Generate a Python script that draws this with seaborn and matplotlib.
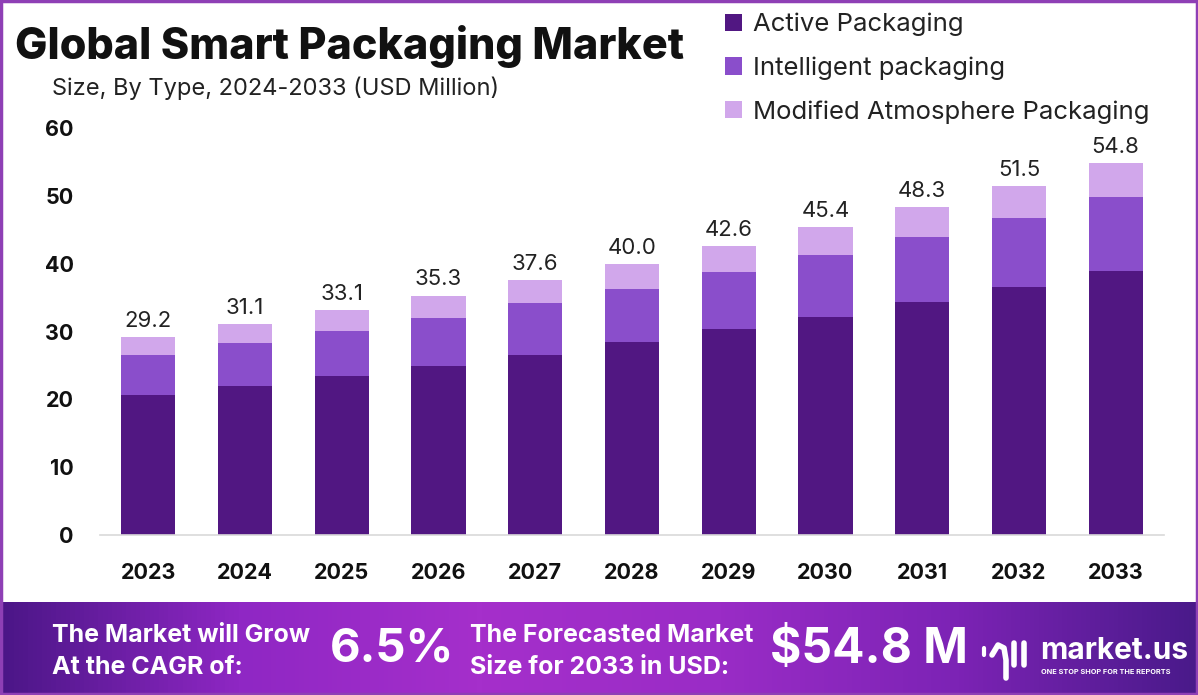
import numpy as np
import pandas as pd
import seaborn as sns
import matplotlib.pyplot as plt
from matplotlib.colors import LinearSegmentedColormap
from matplotlib.patches import Rectangle, Patch

years = ['2023', '2024', '2025', '2026', '2027', '2028', '2029', '2030', '2031', '2032', '2033']
active = [20.6, 21.9, 23.4, 24.9, 26.6, 28.4, 30.3, 32.2, 34.4, 36.6, 38.9]
intelligent = [5.9, 6.4, 6.7, 7.1, 7.6, 7.8, 8.4, 9.1, 9.5, 10.2, 10.9]
modified = [2.7, 2.8, 3.0, 3.3, 3.4, 3.8, 3.9, 4.1, 4.4, 4.7, 5.0]
totals = [29.2, 31.1, 33.1, 35.3, 37.6, 40.0, 42.6, 45.4, 48.3, 51.5, 54.8]

series = ['Active Packaging', 'Intelligent packaging', 'Modified Atmosphere Packaging']
colors = ['#511782', '#8a4ecb', '#d1a7eb']

df = pd.DataFrame({'year': years, 'active': active,
                   'intelligent': intelligent, 'modified': modified})
df['lvl1'] = df['active']
df['lvl2'] = df['lvl1'] + df['intelligent']
df['lvl3'] = df['lvl2'] + df['modified']

sns.set_theme(style='white')
plt.rcParams['font.family'] = ['Inter', 'DejaVu Sans']

fig = plt.figure(figsize=(11.98, 6.95), dpi=100)
ax = fig.add_axes([100 / 1198, 160 / 695, 1064 / 1198, 407 / 695])

# stacked bars: draw tallest cumulative level first
for col, c in zip(['lvl3', 'lvl2', 'lvl1'], colors[::-1]):
    sns.barplot(data=df, x='year', y=col, color=c, width=0.56, ax=ax,
                saturation=1, linewidth=0)

for i, t in enumerate(totals):
    ax.text(i, df['lvl3'][i] + 0.9, f'{t:.1f}', ha='center', va='bottom',
            fontsize=16, color='#222222')

ax.set_ylim(0, 60)
ax.set_xlim(-0.5, 10.5)
ax.set_yticks(range(0, 61, 10))
ax.set_xlabel('')
ax.set_ylabel('')
for s in ['top', 'right', 'left']:
    ax.spines[s].set_visible(False)
ax.spines['bottom'].set_color('#d9d9d9')
ax.spines['bottom'].set_linewidth(1.2)
ax.tick_params(axis='y', length=0, pad=19, labelsize=15.5)
ax.tick_params(axis='x', length=0, pad=20, labelsize=15.5)
for lab in ax.get_xticklabels() + ax.get_yticklabels():
    lab.set_fontweight('bold')
    lab.set_color('#111111')

fig.text(15 / 1198, 1 - 47 / 695, 'Global Smart Packaging Market', fontsize=31,
         fontweight='heavy', color='#111111', va='center', ha='left')
fig.text(52 / 1198, 1 - 88 / 695, 'Size, By Type, 2024-2033 (USD Million)',
         fontsize=17, color='#222222', va='center', ha='left')

handles = [Patch(facecolor=c, edgecolor='none') for c in colors]
fig.legend(handles, series, loc='upper left',
           bbox_to_anchor=(725 / 1198, 1 - 13 / 695), frameon=False,
           fontsize=18.5, handlelength=0.65, handleheight=0.65,
           handletextpad=0.45, labelspacing=0.78, borderpad=0, borderaxespad=0,
           labelcolor='#222222')

# bottom banner with purple gradient
ban = fig.add_axes([0, 0, 1, 93 / 695])
grad = LinearSegmentedColormap.from_list(
    'ban', ['#4b1687', '#8f27c4', '#a52fcb', '#9a2cc6', '#7c23b5', '#4a1a8a'])
ban.imshow(np.linspace(0, 1, 256).reshape(1, -1), aspect='auto', cmap=grad,
           extent=[0, 1, 0, 1])
ban.set_xlim(0, 1)
ban.set_ylim(0, 1)
ban.axis('off')

w = 'white'
fig.text(52 / 1198, 1 - 636 / 695, 'The Market will Grow', fontsize=18,
         fontweight='bold', color=w, va='center')
fig.text(52 / 1198, 1 - 668 / 695, 'At the CAGR of:', fontsize=18,
         fontweight='bold', color=w, va='center')
fig.text(330 / 1198, 1 - 650 / 695, '6.5%', fontsize=34,
         fontweight='bold', color=w, va='center')
fig.text(470 / 1198, 1 - 636 / 695, 'The Forecasted Market', fontsize=18,
         fontweight='bold', color=w, va='center')
fig.text(470 / 1198, 1 - 668 / 695, 'Size for 2033 in USD:', fontsize=18,
         fontweight='bold', color=w, va='center')
fig.text(770 / 1198, 1 - 650 / 695, '$54.8 M', fontsize=34.5,
         fontweight='bold', color=w, va='center')

# logo
fig.text(1040 / 1198, 1 - 651 / 695, 'market.us', fontsize=21.5,
         fontweight='bold', color=w, va='center')
fig.text(1041 / 1198, 1 - 672 / 695, 'ONE STOP SHOP FOR THE REPORTS', fontsize=5.3,
         fontweight='bold', color=w, va='center')
lx = lambda px: px / 1198
ly = lambda py: (695 - py) / 93
ban.plot([lx(984), lx(984)], [ly(648), ly(655)], color=w, lw=3, solid_capstyle='round')
ban.plot([lx(992), lx(998), lx(1004), lx(1006), lx(1006)],
         [ly(655), ly(645), ly(648), ly(660), ly(678)], color=w, lw=4,
         solid_capstyle='round')
ban.plot([lx(1014), lx(1014)], [ly(643), ly(665)], color=w, lw=4, solid_capstyle='round')
ban.plot([lx(1024), lx(1024)], [ly(643), ly(665)], color=w, lw=4, solid_capstyle='round')

# outer frame
fig.patches.append(Rectangle((0.001, 0.001), 0.998, 0.998, transform=fig.transFigure,
                             fill=False, edgecolor='#8e3fb5', lw=2.5))

fig.savefig('out.png', dpi=100)
